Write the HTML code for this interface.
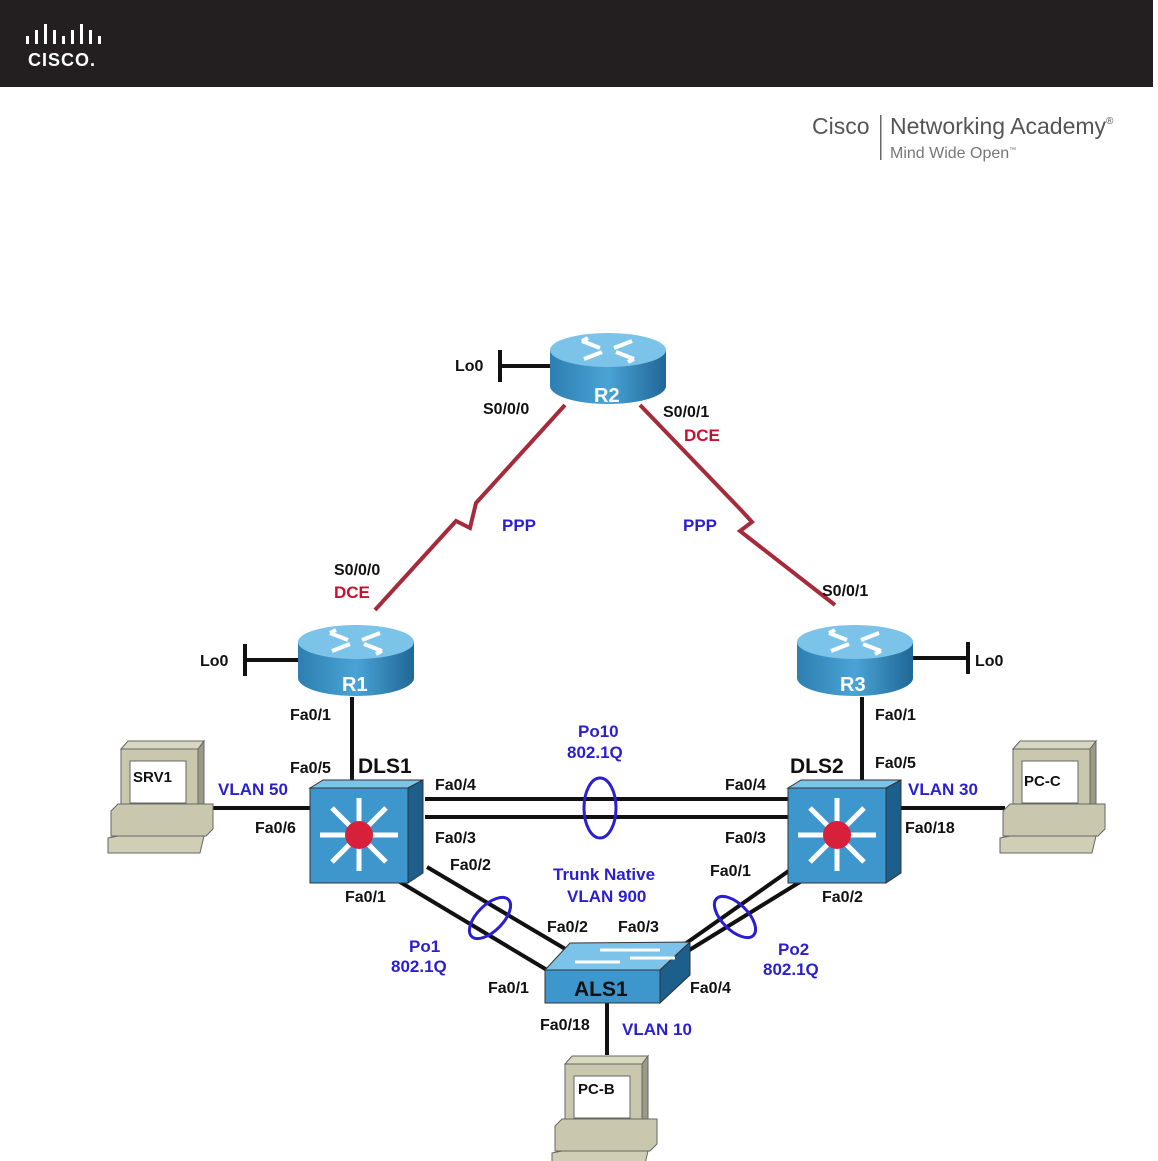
<!DOCTYPE html>
<html><head><meta charset="utf-8"><style>
html,body{margin:0;padding:0;background:#fff;width:1158px;height:1161px;overflow:hidden}
svg{display:block}
text{font-family:"Liberation Sans",Arial,sans-serif;font-weight:bold}
.k{fill:#111;font-size:16px}
.b{fill:#2a1fd0;font-size:17px}
.r{fill:#c8102e;font-size:17px}
.w{fill:#fff;font-size:20px}
</style></head><body>
<svg width="1158" height="1161" viewBox="0 0 1158 1161">
<defs>
<linearGradient id="rg" x1="0" x2="1"><stop offset="0" stop-color="#2d7fb0"/><stop offset=".5" stop-color="#4aa3d6"/><stop offset="1" stop-color="#1f6796"/></linearGradient>
<g id="router">
<path d="M-58,0 L-58,36 A58,18 0 0 0 58,36 L58,0 Z" fill="url(#rg)"/>
<ellipse cx="0" cy="0" rx="58" ry="17" fill="#7cc3ea"/>
<g stroke="#fff" stroke-width="4" fill="none">
<path d="M-26,-9 L-8,-2 M-26,-9 l6,-3"/><path d="M26,9 L8,2 M26,9 l-6,3"/><path d="M24,-9 L6,-2"/><path d="M-24,9 L-6,2"/>
</g>
</g>
<g id="pc">
<rect x="13" y="8" width="77" height="65" fill="#c9c8ae" stroke="#666"/>
<polygon points="13,8 20,0 96,0 90,8" fill="#d8d7c0" stroke="#666"/>
<polygon points="90,8 96,0 96,66 90,73" fill="#9a9a85" stroke="#666"/>
<rect x="22" y="20" width="56" height="42" fill="#fff" stroke="#666"/>
<polygon points="3,70 10,63 105,63 105,88 98,95 3,95" fill="#c9c8ae" stroke="#666"/>
<polygon points="0,97 10,95 96,95 92,112 0,112" fill="#d0cfb6" stroke="#666"/>
</g>
<g id="sw">
<polygon points="0,5 13,-3 113,-3 98,5" fill="#7cc3ea" stroke="#333"/>
<rect x="0" y="5" width="98" height="95" fill="#3d97cc" stroke="#333"/>
<polygon points="98,5 113,-3 113,90 98,100" fill="#1d5f8c" stroke="#333"/>
<g stroke="#fff" stroke-width="5">
<path d="M49,15 V88 M10,52 H88 M22,25 L76,79 M76,25 L22,79"/>
</g>
<circle cx="49" cy="52" r="14" fill="#d8203a"/>
</g>
</defs>
<rect x="0" y="0" width="1153" height="87" fill="#231f20"/>
<g fill="#fff">
<rect x="26" y="36" width="3" height="8"/><rect x="35" y="30" width="3" height="14"/><rect x="44" y="24" width="3" height="20"/><rect x="53" y="30" width="3" height="14"/><rect x="62" y="36" width="3" height="8"/><rect x="71" y="30" width="3" height="14"/><rect x="80" y="24" width="3" height="20"/><rect x="89" y="30" width="3" height="14"/><rect x="98" y="36" width="3" height="8"/>
</g>
<text x="28" y="66" fill="#fff" style="font-size:18px;letter-spacing:1px">CISCO.</text>
<text x="812" y="134" style="font-size:23px;font-weight:normal;fill:#555">Cisco</text>
<rect x="880" y="115" width="1.5" height="45" fill="#666"/>
<text x="890" y="134" style="font-size:23px;font-weight:normal;fill:#555">Networking Academy<tspan style="font-size:10px" dy="-10">®</tspan></text>
<text x="890" y="158" style="font-size:16px;font-weight:normal;fill:#777">Mind Wide Open<tspan style="font-size:7px" dy="-6">™</tspan></text>

<g fill="none" stroke="#a52a3a" stroke-width="4">
<path d="M565,405 L476,503 L470,528 L456,521 L375,610"/>
<path d="M640,405 L741,510 L752,522 L740,531 L835,605"/>
</g>
<g stroke="#111" stroke-width="4" fill="none">
<path d="M500,366 H550 M500,350 V382"/>
<path d="M245,660 H300 M245,644 V676"/>
<path d="M912,658 H968 M968,642 V674"/>
<path d="M352,697 V783 M862,697 V783"/>
<path d="M425,799 H790 M425,817 H790"/>
<path d="M427,867 L567,950 M400,882 L547,970"/>
<path d="M790,870 L685,944 M800,882 L665,965"/>
<path d="M607,1003 V1055"/>
<path d="M205,808 H312 M885,808 H1005"/>
</g>
<g fill="none" stroke="#2a1fd0" stroke-width="3">
<ellipse cx="600" cy="808" rx="16" ry="30"/>
<ellipse cx="490" cy="918" rx="26" ry="13" transform="rotate(-45 490 918)"/>
<ellipse cx="735" cy="917" rx="26" ry="13" transform="rotate(45 735 917)"/>
</g>
<use href="#router" x="608" y="350"/>
<use href="#router" x="356" y="642"/>
<use href="#router" x="855" y="642"/>
<text class="w" x="594" y="402">R2</text>
<text class="w" x="342" y="691">R1</text>
<text class="w" x="840" y="691">R3</text>
<use href="#sw" x="310" y="783"/>
<use href="#sw" x="788" y="783"/>
<polygon points="545,970 570,943 690,942 660,970" fill="#7cc3ea" stroke="#333"/>
<rect x="545" y="970" width="115" height="33" fill="#3d97cc" stroke="#333"/>
<polygon points="660,970 690,942 690,975 660,1003" fill="#1d5f8c" stroke="#333"/>
<g stroke="#fff" stroke-width="3"><path d="M575,962 H620 M600,950 H660 M630,958 H675"/></g>
<text x="574" y="996" style="font-size:21px;fill:#111">ALS1</text>
<use href="#pc" x="108" y="741"/>
<use href="#pc" x="1000" y="741"/>
<use href="#pc" x="552" y="1056"/>
<text class="k" x="133" y="782" style="font-size:15px">SRV1</text>
<text class="k" x="1024" y="786" style="font-size:15px">PC-C</text>
<text class="k" x="578" y="1094" style="font-size:15px">PC-B</text>

<text class="k" x="455" y="371">Lo0</text>
<text class="k" x="483" y="414">S0/0/0</text>
<text class="k" x="663" y="417">S0/0/1</text>
<text class="r" x="684" y="441">DCE</text>
<text class="b" x="502" y="531">PPP</text>
<text class="b" x="683" y="531">PPP</text>
<text class="k" x="334" y="575">S0/0/0</text>
<text class="r" x="334" y="598">DCE</text>
<text class="k" x="822" y="596">S0/0/1</text>
<text class="k" x="200" y="666">Lo0</text>
<text class="k" x="975" y="666">Lo0</text>
<text class="k" x="290" y="720">Fa0/1</text>
<text class="k" x="875" y="720">Fa0/1</text>
<text class="b" x="578" y="737">Po10</text>
<text class="b" x="567" y="758">802.1Q</text>
<text class="k" x="290" y="773">Fa0/5</text>
<text x="358" y="773" style="font-size:21px;fill:#111">DLS1</text>
<text x="790" y="773" style="font-size:21px;fill:#111">DLS2</text>
<text class="k" x="875" y="768">Fa0/5</text>
<text class="b" x="218" y="795">VLAN 50</text>
<text class="b" x="908" y="795">VLAN 30</text>
<text class="k" x="435" y="790">Fa0/4</text>
<text class="k" x="725" y="790">Fa0/4</text>
<text class="k" x="255" y="833">Fa0/6</text>
<text class="k" x="905" y="833">Fa0/18</text>
<text class="k" x="435" y="843">Fa0/3</text>
<text class="k" x="725" y="843">Fa0/3</text>
<text class="k" x="450" y="870">Fa0/2</text>
<text class="k" x="710" y="876">Fa0/1</text>
<text class="b" x="553" y="880">Trunk Native</text>
<text class="b" x="567" y="902">VLAN 900</text>
<text class="k" x="345" y="902">Fa0/1</text>
<text class="k" x="822" y="902">Fa0/2</text>
<text class="k" x="547" y="932">Fa0/2</text>
<text class="k" x="618" y="932">Fa0/3</text>
<text class="b" x="409" y="952">Po1</text>
<text class="b" x="391" y="972">802.1Q</text>
<text class="b" x="778" y="955">Po2</text>
<text class="b" x="763" y="975">802.1Q</text>
<text class="k" x="488" y="993">Fa0/1</text>
<text class="k" x="690" y="993">Fa0/4</text>
<text class="k" x="540" y="1030">Fa0/18</text>
<text class="b" x="622" y="1035">VLAN 10</text>
</svg>
</body></html>
